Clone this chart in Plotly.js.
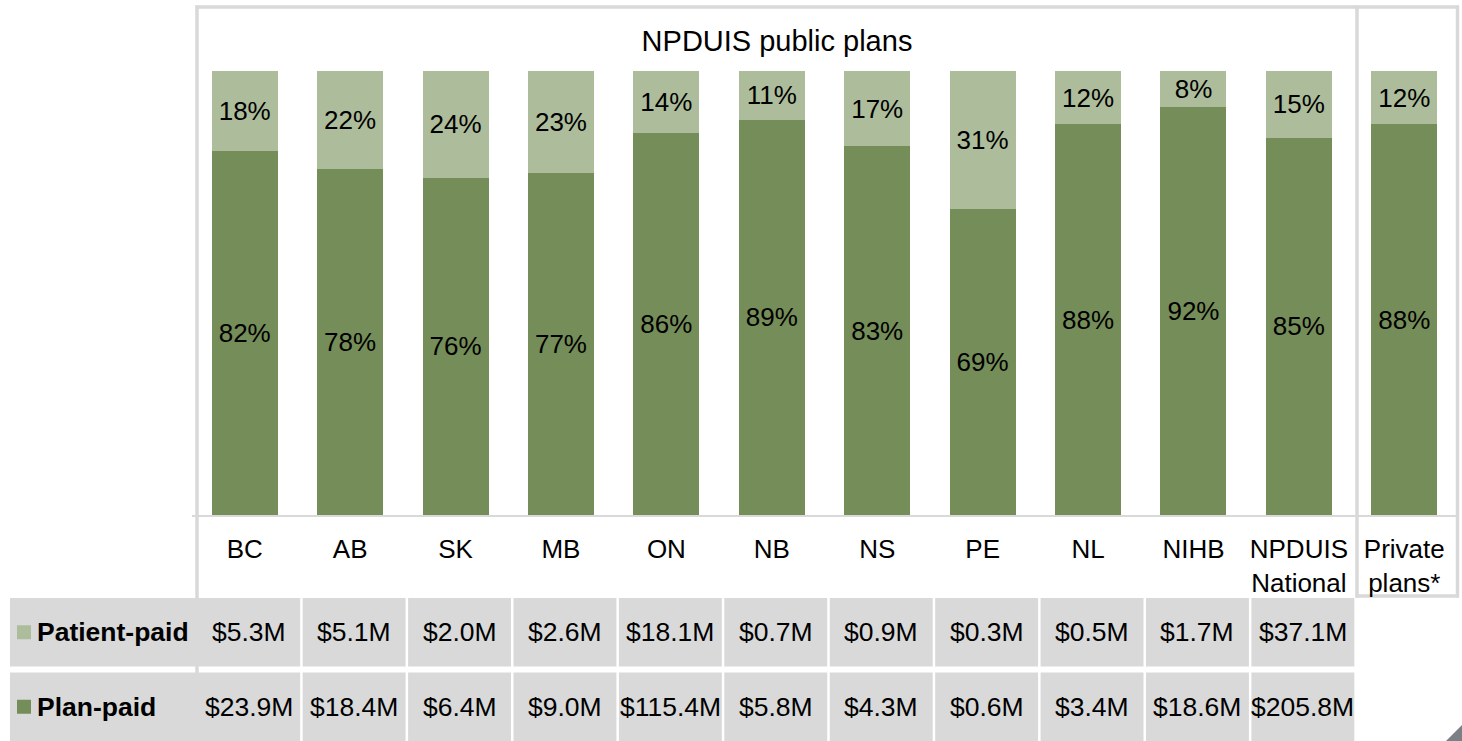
<!DOCTYPE html>
<html>
<head>
<meta charset="utf-8">
<script src="https://cdn.plot.ly/plotly-3.0.1.min.js"></script>
<style>
  html, body { margin: 0; padding: 0; background: #ffffff; }
  #chart { width: 1462px; height: 741px; }
</style>
</head>
<body>
<div id="chart"></div>
<script>
// ---- Data ----
const categories = ['BC','AB','SK','MB','ON','NB','NS','PE','NL','NIHB','NPDUIS National','Private plans*'];
const tickLabels = ['BC','AB','SK','MB','ON','NB','NS','PE','NL','NIHB','NPDUIS<br>National','Private<br>plans*'];
const planPaidPct = [82,78,76,77,86,89,83,69,88,92,85,88];
const patientPaidPct = [18,22,24,23,14,11,17,31,12,8,15,12];
const tableCategories = ['BC','AB','SK','MB','ON','NB','NS','PE','NL','NIHB','NPDUIS National'];
const patientPaidAmt = ['$5.3M','$5.1M','$2.0M','$2.6M','$18.1M','$0.7M','$0.9M','$0.3M','$0.5M','$1.7M','$37.1M'];
const planPaidAmt = ['$23.9M','$18.4M','$6.4M','$9.0M','$115.4M','$5.8M','$4.3M','$0.6M','$3.4M','$18.6M','$205.8M'];
const seriesNames = ['Patient-paid','Plan-paid'];
const chartTitle = 'NPDUIS public plans';

// ---- Style ----
const W = 1462, H = 741;
const M = {l: 192, r: 5, t: 71, b: 226};
const PW = W - M.l - M.r, PH = H - M.t - M.b;
const DARK = '#758D58', LIGHT = '#ADBD9B', GREY = '#D9D9D9';
const FONT = '"Liberation Sans", Arial, sans-serif';
const FS = 26;
const TFS = 26.5;
const px = x => (x - M.l) / PW;          // pixel -> paper x
const py = y => 1 - (y - M.t) / PH;      // pixel -> paper y
const colOffset = 4 / (PW / categories.length); // table columns shifted right vs bars
const colGap = 2.5 / (PW / categories.length);

const traces = [
  {
    type: 'bar', name: seriesNames[1], x: categories, y: planPaidPct,
    marker: {color: DARK, line: {width: 0}},
    texttemplate: '%{y}%', textposition: 'inside', insidetextanchor: 'middle',
    textangle: 0, constraintext: 'none',
    textfont: {family: FONT, size: FS, color: '#000000'},
    hoverinfo: 'skip'
  },
  {
    type: 'bar', name: seriesNames[0], x: categories, y: patientPaidPct,
    marker: {color: LIGHT, line: {width: 0}},
    texttemplate: '%{y}%', textposition: 'inside', insidetextanchor: 'middle',
    textangle: 0, constraintext: 'none',
    textfont: {family: FONT, size: FS, color: '#000000'},
    hoverinfo: 'skip'
  }
];

const shapes = [];
const annotations = [];
const lineStyle = {color: GREY, width: 3.5};

// Frame lines
shapes.push({type: 'line', xref: 'paper', yref: 'paper', x0: px(197), x1: px(197), y0: py(5.5), y1: py(741), line: lineStyle, layer: 'below'});
shapes.push({type: 'line', xref: 'paper', yref: 'paper', x0: px(195.5), x1: px(1459), y0: py(7), y1: py(7), line: lineStyle, layer: 'below'});
shapes.push({type: 'line', xref: 'paper', yref: 'paper', x0: px(1457.5), x1: px(1457.5), y0: py(5.5), y1: py(597.5), line: lineStyle, layer: 'below'});
shapes.push({type: 'line', xref: 'paper', yref: 'paper', x0: px(1357), x1: px(1357), y0: py(5.5), y1: py(597.5), line: lineStyle, layer: 'below'});
shapes.push({type: 'line', xref: 'paper', yref: 'paper', x0: px(1355.5), x1: px(1459), y0: py(596), y1: py(596), line: lineStyle, layer: 'below'});

// Table rows
const rows = [
  {label: seriesNames[0], values: patientPaidAmt, color: LIGHT, top: 598, bottom: 666.5},
  {label: seriesNames[1], values: planPaidAmt, color: DARK, top: 672.5, bottom: 741}
];
rows.forEach(row => {
  const yc = (row.top + row.bottom) / 2;
  tableCategories.forEach((c, i) => {
    const x0 = i === 0 ? null : i - 0.5 + colOffset + colGap / 2;
    const x1 = i + 0.5 + colOffset - colGap / 2;
    if (i === 0) {
      // label cell merged with first column
      shapes.push({type: 'rect', xref: 'paper', yref: 'paper', x0: px(10), x1: px(192),
        y0: py(row.bottom), y1: py(row.top), fillcolor: GREY, line: {width: 0}, layer: 'below'});
      shapes.push({type: 'rect', xref: 'x', yref: 'paper', x0: -0.5, x1: x1,
        y0: py(row.bottom), y1: py(row.top), fillcolor: GREY, line: {width: 0}, layer: 'below'});
    } else {
      shapes.push({type: 'rect', xref: 'x', yref: 'paper', x0: x0, x1: x1,
        y0: py(row.bottom), y1: py(row.top), fillcolor: GREY, line: {width: 0}, layer: 'below'});
    }
    annotations.push({xref: 'x', yref: 'paper', x: i + colOffset, y: py(yc),
      text: row.values[i], showarrow: false, xanchor: 'center', yanchor: 'middle',
      font: {family: FONT, size: TFS, color: '#000000'}});
  });
  // legend square + label
  shapes.push({type: 'rect', xref: 'paper', yref: 'paper', x0: px(17), x1: px(31),
    y0: py(yc + 7), y1: py(yc - 7), fillcolor: row.color, line: {width: 0}, layer: 'above'});
  annotations.push({xref: 'paper', yref: 'paper', x: px(35), y: py(yc),
    text: '<b>' + row.label + '</b>', showarrow: false, xanchor: 'left', yanchor: 'middle',
    font: {family: FONT, size: TFS, color: '#000000'}});
});

// corner mark
shapes.push({type: 'path', xref: 'paper', yref: 'paper',
  path: `M ${px(1446)} ${py(741)} L ${px(1462)} ${py(741)} L ${px(1462)} ${py(725)} Z`,
  fillcolor: '#7B7F86', line: {width: 0}, layer: 'above'});

const layout = {
  width: W, height: H,
  margin: M,
  paper_bgcolor: '#ffffff', plot_bgcolor: '#ffffff',
  barmode: 'stack', bargap: 0.374,
  showlegend: false, hovermode: false,
  title: {
    text: chartTitle, xref: 'container', yref: 'container',
    x: 777 / W, y: 1 - 41 / H, xanchor: 'center', yanchor: 'middle',
    font: {family: FONT, size: 29, color: '#000000'}
  },
  xaxis: {
    type: 'category', categoryorder: 'array', categoryarray: categories,
    tickmode: 'array', tickvals: categories, ticktext: tickLabels,
    ticks: 'outside', ticklen: 10, tickcolor: 'rgba(0,0,0,0)',
    tickfont: {family: FONT, size: FS, color: '#000000'},
    showline: true, linecolor: GREY, linewidth: 2,
    showgrid: false, zeroline: false, fixedrange: true,
    range: [-0.5, categories.length - 0.5]
  },
  yaxis: {
    range: [0, 100], visible: false, showgrid: false, zeroline: false, fixedrange: true
  },
  shapes: shapes,
  annotations: annotations,
  font: {family: FONT, color: '#000000'}
};

Plotly.newPlot('chart', traces, layout, {displayModeBar: false, staticPlot: true});
</script>
</body>
</html>
